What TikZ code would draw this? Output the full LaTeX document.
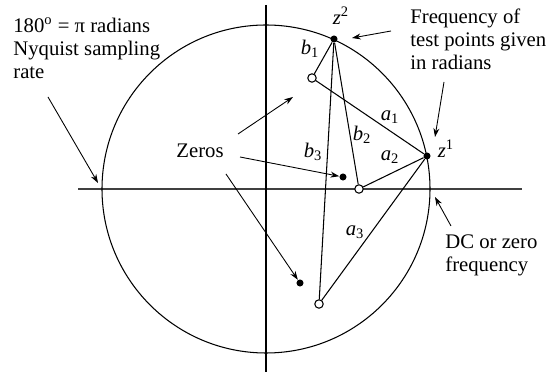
\documentclass[tikz,border=0pt]{standalone}
\usepackage{fontspec}
\setmainfont{Liberation Serif}
\usetikzlibrary{positioning,arrows.meta}

\begin{document}
\begin{tikzpicture}[x=0.02cm, y=-0.02cm,
  every node/.style={font=\fontsize{11.8}{13.3}\selectfont},
  txt/.style={align=left, anchor=base west, inner sep=0pt},
  lbl/.style={inner sep=0pt},
  zdot/.style={circle, fill=black, inner sep=0pt, minimum size=4pt},
  pole/.style={circle, draw=black, fill=white, line width=0.6pt,
    inner sep=0pt, minimum size=4.8pt},
  seg/.style={line width=0.6pt},
  ptr/.style={-{Stealth[length=5pt, width=3.4pt]}, line width=0.5pt},
]
  \useasboundingbox (0,0) rectangle (548,374);

  % Axes and unit circle
  \draw[line width=0.7pt, black!75] (78,189) -- (522,189);
  \draw[line width=0.6pt] (266,5) -- (266,372);
  \draw[seg] (266,189) circle[radius=164];

  % Test points, poles and zeros
  \node[zdot] (z2) at (334,39) {};
  \node[zdot] (z1) at (427,156) {};
  \node[pole] (p1) at (312,78) {};
  \node[pole] (p2) at (359,189) {};
  \node[pole] (p3) at (319,304) {};
  \node[zdot] (zr1) at (343,177) {};
  \node[zdot] (zr2) at (300,283) {};

  % Vectors
  \draw[seg] (z2) -- (p1);
  \draw[seg] (z2) -- (p2);
  \draw[seg] (z2) -- (p3);
  \draw[seg] (z1) -- (p1);
  \draw[seg] (z1) -- (p2);
  \draw[seg] (z1) -- (p3);

  % Vector labels
  \node[lbl] (b1) at (310,49) {\textit{b}\textsubscript{1}};
  \node[lbl] (b2) at (362,135) {\textit{b}\textsubscript{2}};
  \node[lbl] (b3) at (313,152) {\textit{b}\textsubscript{3}};
  \node[lbl] (a1) at (390,117) {\textit{a}\textsubscript{1}};
  \node[lbl] (a2) at (390,157) {\textit{a}\textsubscript{2}};
  \node[lbl] (a3) at (355,232) {\textit{a}\textsubscript{3}};
  \node[lbl] (z2l) at (341,16) {\textit{z}\textsuperscript{2}};
  \node[lbl] (z1l) at (446,149) {\textit{z}\textsuperscript{1}};

  % Annotations (anchored at the baseline of the last line)
  \node[txt] (nyq) at (13,79) {180\textsuperscript{o} = π radians\\Nyquist sampling\\rate};
  \node[txt] (freq) at (410,70) {Frequency of\\test points given\\in radians};
  \node[txt] (dc) at (445,272) {DC or zero\\frequency};
  \node[anchor=base, inner sep=0pt] (zeros) at (200,158) {Zeros};

  % Pointers
  \coordinate (nyqA) at (48,97);
  \coordinate (nyqB) at (98,183);
  \coordinate (fqA) at (391,31);
  \coordinate (fqB) at (352,38);
  \coordinate (fqC) at (444,82);
  \coordinate (fqD) at (435,137);
  \coordinate (dcA) at (451,226);
  \coordinate (dcB) at (435,197);
  \coordinate (zA) at (238,134);
  \coordinate (zB) at (293,97);
  \coordinate (zC) at (240,157);
  \coordinate (zD) at (226,174);
  \draw[ptr] (nyqA) -- (nyqB);
  \draw[ptr] (fqA) -- (fqB);
  \draw[ptr] (fqC) -- (fqD);
  \draw[ptr] (dcA) -- (dcB);
  \draw[ptr] (zA) -- (zB);
  \draw[ptr] (zC) -- (zr1);
  \draw[ptr] (zD) -- (zr2);
\end{tikzpicture}
\end{document}
